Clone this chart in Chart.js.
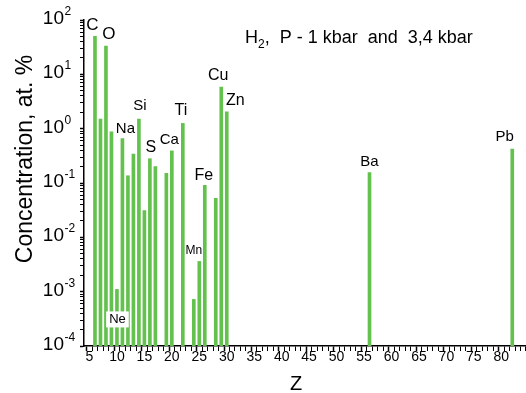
<!DOCTYPE html>
<html>
<head>
<meta charset="utf-8">
<script src="https://cdn.jsdelivr.net/npm/chart.js@4.4.1/dist/chart.umd.min.js"></script>
<style>
  body { margin: 0; background: #fff; }
  #wrap { width: 526px; height: 393px; }
</style>
</head>
<body>
<div id="wrap"><canvas id="concChart"></canvas></div>
<script>
// Z of each element and its concentration, at. %
const zValues = [6, 7, 8, 9, 10, 11, 12, 13, 14, 15, 16, 17, 19, 20, 22, 24, 25, 26, 28, 29, 30, 56, 82];
const concentration = [50, 1.5, 33, 0.87, 0.0011, 0.66, 0.136, 0.34, 1.5, 0.031, 0.28, 0.2, 0.15, 0.39, 1.25,
    0.00072, 0.0036, 0.091, 0.052, 5.8, 2.05, 0.155, 0.42];
const elementNames = ['C', '', 'O', '', 'Ne', 'Na', '', '', 'Si', '', 'S', '', '', 'Ca', 'Ti', '', 'Mn', 'Fe', '',
    'Cu', 'Zn', 'Ba', 'Pb'];
const xTickValues = [5, 10, 15, 20, 25, 30, 35, 40, 45, 50, 55, 60, 65, 70, 75, 80];
const yExponents = [2, 1, 0, -1, -2, -3, -4];

// where each symbol sits relative to the top of its bar: [dx, dy, font size]
const labelShift = {
    C: [-2.5, -11, 17], O: [3, -12, 17], Na: [3, -10, 15], Si: [1, -13, 15], S: [1, -11, 16],
    Ca: [-2.5, -11, 15], Ti: [-2, -13, 16], Fe: [-1, -10, 16], Mn: [-5.5, -11, 12], Cu: [-3, -12, 16],
    Zn: [8.5, -11.5, 16], Ne: [0.5, 30, 13], Ba: [0, -11, 15], Pb: [-7.5, -12.5, 15]
};

const FONT = 'Liberation Sans, Arial, sans-serif';
const barGreen = '#63c14e';

const points = zValues.map((z, i) => ({ x: z, y: concentration[i] }));

// minor tick every unit of Z, every 1..9 in each decade of concentration
const zTicks = [];
for (let v = 4; v <= 84; v++) zTicks.push({ value: v });
const logTicks = [];
yExponents.slice().reverse().forEach(e => {
    for (let m = 1; m <= 9; m++) {
        const val = m * Math.pow(10, e);
        if (val <= 100.01) logTicks.push({ value: val });
    }
});

// element symbols over the bars
const symbolPlugin = {
    id: 'symbolPlugin',
    afterDatasetsDraw(chart) {
        const ctx = chart.ctx;
        const xs = chart.scales.x;
        const ys = chart.scales.y;
        ctx.save();
        ctx.textAlign = 'center';
        ctx.textBaseline = 'middle';
        elementNames.forEach((name, i) => {
            if (!name) return;
            const s = labelShift[name];
            const px = xs.getPixelForValue(zValues[i]) + s[0];
            const py = ys.getPixelForValue(concentration[i]) + s[1];
            ctx.font = s[2] + 'px ' + FONT;
            if (name === 'Ne') {
                const w = ctx.measureText(name).width + 6;
                ctx.fillStyle = '#fff';
                ctx.fillRect(px - w / 2, py - 8, w, 16);
            }
            ctx.fillStyle = '#000';
            ctx.fillText(name, px, py);
        });
        ctx.restore();
    }
};

// tick labels and titles
const textPlugin = {
    id: 'textPlugin',
    afterDraw(chart) {
        const ctx = chart.ctx;
        const xs = chart.scales.x;
        const ys = chart.scales.y;
        const yBot = ys.getPixelForValue(ys.min);
        ctx.save();
        ctx.fillStyle = '#000';
        ctx.textBaseline = 'alphabetic';
        ctx.textAlign = 'center';
        ctx.font = '14px ' + FONT;
        xTickValues.forEach(v => {
            ctx.fillText(String(v), xs.getPixelForValue(v), yBot + 15);
        });

        // y tick labels as 10 with a superscript power
        yExponents.forEach(e => {
            const py = ys.getPixelForValue(Math.pow(10, e));
            ctx.textAlign = 'right';
            ctx.font = '19px ' + FONT;
            ctx.fillText('10', 64, py + 4);
            ctx.textAlign = 'left';
            ctx.font = '12px ' + FONT;
            ctx.fillText(String(e), 64.5, py - 5);
        });

        ctx.textAlign = 'center';
        ctx.font = '20px ' + FONT;
        ctx.fillText('Z', 296, 390);

        ctx.save();
        ctx.translate(32, 159);
        ctx.rotate(-Math.PI / 2);
        ctx.font = '23px ' + FONT;
        ctx.fillText('Concentration, at. %', 0, 0);
        ctx.restore();

        // title with subscript
        const parts = [['H', 18, 0], ['2', 12, 5], [',  P - 1 kbar  and  3,4 kbar', 18, 0]];
        let tx = 245;
        ctx.textAlign = 'left';
        parts.forEach(p => {
            ctx.font = p[1] + 'px ' + FONT;
            ctx.fillText(p[0], tx, 43 + p[2]);
            tx += ctx.measureText(p[0]).width;
        });
        ctx.restore();
    }
};

new Chart(document.getElementById('concChart'), {
    type: 'bar',
    data: {
        datasets: [{
            data: points,
            backgroundColor: barGreen,
            borderWidth: 0,
            barThickness: 3
        }]
    },
    options: {
        responsive: true,
        maintainAspectRatio: false,
        animation: false,
        layout: { padding: { left: 80, top: 20, right: 0, bottom: 42 } },
        plugins: { legend: { display: false }, tooltip: { enabled: false } },
        scales: {
            x: {
                type: 'linear', min: 4, max: 84.5, offset: false,
                afterBuildTicks: scale => { scale.ticks = zTicks.map(t => ({ value: t.value })); },
                border: { display: true, color: '#000', width: 1.5 },
                grid: {
                    drawOnChartArea: false, drawTicks: true, tickLength: 5, color: '#000',
                    tickWidth: c => (c.tick && c.tick.value % 5 === 0 ? 1.5 : 1)
                },
                ticks: { display: false }
            },
            y: {
                type: 'logarithmic', min: 1e-4, max: 100,
                afterBuildTicks: scale => { scale.ticks = logTicks.map(t => ({ value: t.value })); },
                border: { display: true, color: '#000', width: 1.5 },
                grid: {
                    drawOnChartArea: false, drawTicks: true, tickLength: 4, color: '#000',
                    tickWidth: c => (c.tick && Math.abs(Math.log10(c.tick.value) % 1) < 1e-6 ? 1.5 : 1)
                },
                ticks: { display: false }
            }
        }
    },
    plugins: [symbolPlugin, textPlugin]
});
</script>
</body>
</html>
